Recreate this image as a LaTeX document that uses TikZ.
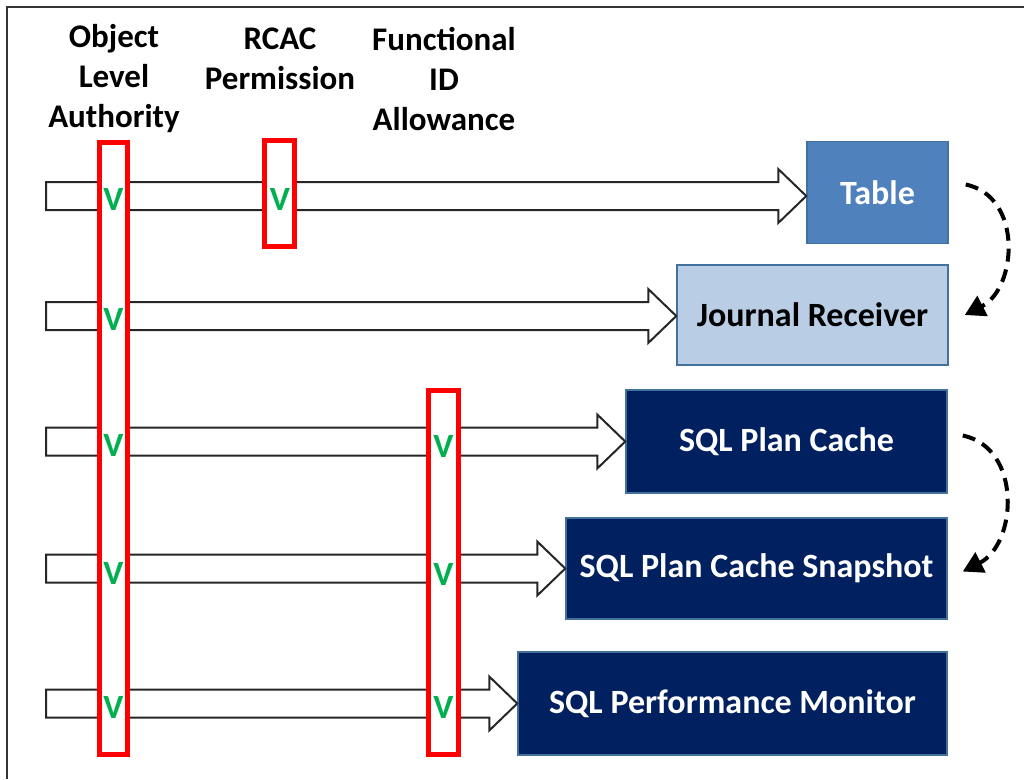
\documentclass[tikz,border=0pt]{standalone}
\usepackage{fontspec}
\setmainfont{Carlito}
\usetikzlibrary{arrows.meta,calc}
\definecolor{navybox}{HTML}{002060}
\definecolor{tablebox}{HTML}{4F81BD}
\definecolor{journalbox}{HTML}{B9CDE5}
\definecolor{boxedge}{HTML}{41719C}
\definecolor{checkgreen}{HTML}{00B050}
\tikzset{
  header/.style={align=center, font=\fontsize{33}{40}\selectfont\bfseries, inner sep=0pt},
  target/.style={draw=boxedge, line width=1.5pt, inner sep=0pt, font=\fontsize{34}{40}\selectfont\bfseries},
  navytarget/.style={target, fill=navybox, text=white},
  redcol/.style={draw=red, fill=white, line width=5pt, inner sep=0pt},
  check/.style={text=checkgreen, font=\fontsize{34}{40}\selectfont\bfseries, inner sep=0pt},
  blockarrow/.style={draw=black!85, line width=2pt, fill=white, line join=miter},
  loopback/.style={draw=black, line width=4pt, dash pattern=on 13pt off 8pt, -{Triangle[length=20pt,width=22pt]}}
}
\newcommand\blockarr[2]{%
  \path[blockarrow] let \p1=(#1), \p2=(#2.west) in
    (\x1,\y1+14pt) -- (\x2-28pt,\y1+14pt) -- (\x2-28pt,\y1+27pt) -- (\x2,\y1)
    -- (\x2-28pt,\y1-27pt) -- (\x2-28pt,\y1-14pt) -- (\x1,\y1-14pt) -- cycle;}
\begin{document}
\begin{tikzpicture}[x=1pt,y=-1pt]
\useasboundingbox (0,0) rectangle (1024,779);
\draw[line width=2pt, black!80] (7,779) -- (7,7) -- (1024,7);

% headers
\node[header] (hola) at (114,79) {Object\\Level\\Authority};
\node[header] (hrcac) at (280,59) {RCAC\\Permission};
\node[header] (hfid) at (444,79) {Functional\\ID\\Allowance};

% targets
\node[target, fill=tablebox, text=white, minimum width=141pt, minimum height=102pt] (table) at (877.5,192.5) {Table};
\node[target, fill=journalbox, text=black, minimum width=271pt, minimum height=100pt] (journal) at (812.5,315) {Journal Receiver};
\node[navytarget, minimum width=321pt, minimum height=103pt] (plancache) at (786.5,441.5) {SQL Plan Cache};
\node[navytarget, minimum width=381pt, minimum height=101pt] (snapshot) at (756.5,568.5) {SQL Plan Cache Snapshot};
\node[navytarget, minimum width=429pt, minimum height=103pt] (monitor) at (732.5,703.5) {SQL Performance Monitor};

% arrow starts
\coordinate (s1) at (46,196);
\coordinate (s2) at (46,316);
\coordinate (s3) at (46,441.5);
\coordinate (s4) at (46,568.5);
\coordinate (s5) at (46,703.5);

\blockarr{s1}{table}
\blockarr{s2}{journal}
\blockarr{s3}{plancache}
\blockarr{s4}{snapshot}
\blockarr{s5}{monitor}

% red columns
\node[redcol, minimum width=28pt, minimum height=612pt] (olacol) at (113.5,448.5) {};
\node[redcol, minimum width=30pt, minimum height=106pt] (rcaccol) at (279.5,193.5) {};
\node[redcol, minimum width=30pt, minimum height=364pt] (fidcol) at (443.5,572.5) {};

% checks
\node[check] (c11) at (113.5,199) {V};
\node[check] (c12) at (113.5,319) {V};
\node[check] (c13) at (113.5,445) {V};
\node[check] (c14) at (113.5,573) {V};
\node[check] (c15) at (113.5,707) {V};
\node[check] (c21) at (280,199) {V};
\node[check] (c33) at (443.5,446) {V};
\node[check] (c34) at (443.5,574) {V};
\node[check] (c35) at (443.5,707) {V};

% dashed loop-backs
\draw[loopback] ([xshift=17pt,yshift=8pt]table.east) to[out=-12,in=27,looseness=1.15] ([xshift=16pt]journal.east);
\draw[loopback] ([xshift=15pt,yshift=6pt]plancache.east) to[out=-12,in=27,looseness=1.15] ([xshift=15pt,yshift=-3pt]snapshot.east);
\end{tikzpicture}
\end{document}
